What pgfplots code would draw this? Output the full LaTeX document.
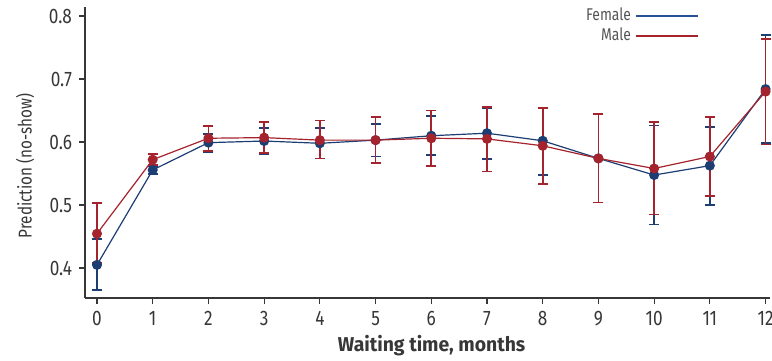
\documentclass[border=0pt]{standalone}
\usepackage{fontspec}
\setmainfont{Fira Sans}[FakeStretch=0.82]
\newfontfamily\xlabfont{Fira Sans}[FakeStretch=0.97]
\usepackage{pgfplots}
\pgfplotsset{compat=1.18}
\usepackage{pgfplotstable}
\definecolor{fblue}{RGB}{28,62,115}
\definecolor{lblue}{RGB}{40,80,150}
\definecolor{mred}{RGB}{165,35,45}
\definecolor{axgray}{RGB}{55,55,55}
\definecolor{txtgray}{RGB}{55,55,55}
\definecolor{leggray}{RGB}{85,85,85}

\pgfplotstableread{
x y lo hi
0 0.405 0.365 0.4465
1 0.5556 0.549 0.562
2 0.599 0.584 0.613
3 0.6016 0.581 0.622
4 0.598 0.574 0.622
5 0.603 0.577 0.629
6 0.610 0.579 0.641
7 0.614 0.573 0.653
8 0.602 0.548 0.655
9 0.574 0.504 0.644
10 0.5476 0.469 0.6265
11 0.5625 0.500 0.624
12 0.684 0.598 0.770
}\female

\pgfplotstableread{
x y lo hi
0 0.4545 0.408 0.503
1 0.572 0.563 0.581
2 0.606 0.586 0.625
3 0.607 0.583 0.632
4 0.603 0.574 0.634
5 0.603 0.567 0.640
6 0.606 0.562 0.650
7 0.605 0.553 0.656
8 0.594 0.533 0.654
9 0.574 0.504 0.644
10 0.558 0.485 0.632
11 0.577 0.514 0.640
12 0.680 0.596 0.763
}\male

\begin{document}
\begin{tikzpicture}
\begin{axis}[
  scale only axis, width=342.5pt, height=145.5pt,
  xmin=-0.215, xmax=12.08, ymin=0.3524, ymax=0.8143,
  axis x line*=bottom, axis y line*=left,
  axis line style={axgray, line width=0.7pt},
  xtick={0,1,2,3,4,5,6,7,8,9,10,11,12},
  ytick={0.4,0.5,0.6,0.7,0.8},
  yticklabel style={/pgf/number format/.cd, fixed, precision=1, fixed zerofill},
  /pgf/number format/assume math mode=true,
  tick style={axgray, line width=0.6pt},
  major tick length=3pt, tick align=outside,
  ticklabel style={font=\fontsize{10.5}{12}\selectfont, text=txtgray},
  xlabel={\xlabfont\bfseries Waiting time, months},
  ylabel={Prediction (no-show)},
  xlabel style={font=\fontsize{10}{12}\selectfont, text=txtgray,
    at={(axis description cs:0.506,-0.165)}, anchor=center},
  ylabel style={font=\fontsize{9.3}{11}\selectfont, text=txtgray,
    at={(axis description cs:-0.0876,0.4536)}, anchor=center},
  clip=false,
  legend style={at={(axis description cs:0.8964,1.012)}, anchor=north east,
    draw=none, fill=none, font=\fontsize{8.5}{10}\selectfont,
    inner sep=0pt, row sep=-1.75pt},
  legend cell align=right,
  legend plot pos=right,
  legend image code/.code={\draw[#1] (0pt,0pt) -- (31pt,0pt);},
]
\addlegendimage{draw=lblue, line width=0.8pt}
\addlegendentry{\textcolor{leggray}{Female}}
\addlegendimage{draw=mred, line width=0.8pt}
\addlegendentry{\textcolor{leggray}{Male}}
\addplot[forget plot, fblue, line width=0.6pt, mark=*, mark size=2.2pt,
  mark options={fill=fblue, draw=fblue},
  error bars/.cd, y dir=both, y explicit,
  error bar style={line width=0.8pt, fblue},
  error mark options={rotate=90, mark size=2.5pt, line width=0.8pt, fblue}]
  table[x=x, y=y, y error plus expr=\thisrow{hi}-\thisrow{y}, y error minus expr=\thisrow{y}-\thisrow{lo}] {\female};
\addplot[forget plot, mred, line width=0.6pt, mark=*, mark size=2.2pt,
  mark options={fill=mred, draw=mred},
  error bars/.cd, y dir=both, y explicit,
  error bar style={line width=0.85pt, mred},
  error mark options={rotate=90, mark size=2.5pt, line width=0.85pt, mred}]
  table[x=x, y=y, y error plus expr=\thisrow{hi}-\thisrow{y}, y error minus expr=\thisrow{y}-\thisrow{lo}] {\male};
\coordinate (bbsw) at (rel axis cs:-0.1241,-0.2131);
\coordinate (bbne) at (rel axis cs:1.0029,1.0241);
\end{axis}
\pgfresetboundingbox
\path[use as bounding box] (bbsw) rectangle (bbne);
\end{tikzpicture}
\end{document}
